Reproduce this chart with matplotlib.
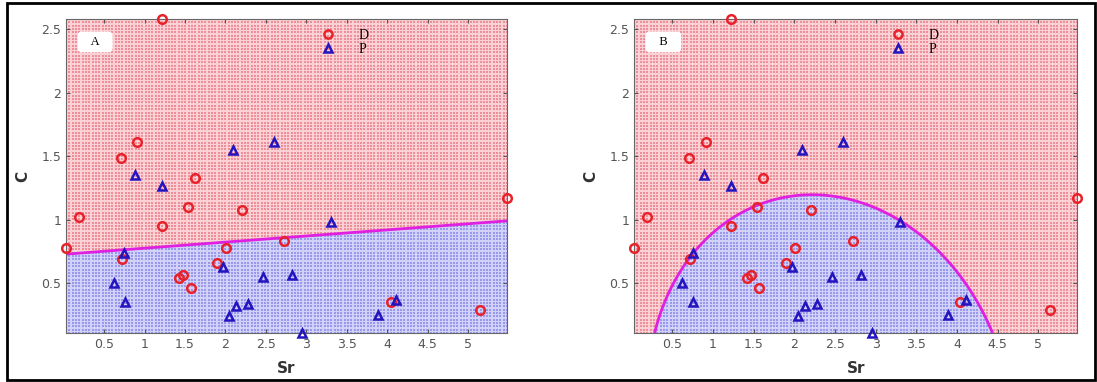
import numpy as np
import matplotlib
matplotlib.use("Agg")
import matplotlib.pyplot as plt
from matplotlib.patches import Rectangle
from matplotlib.colors import ListedColormap

# class D (red circles)
d_sr = [1.22, 0.71, 0.91, 1.62, 0.19, 1.54, 2.21, 1.22, 0.03, 0.72,
        1.47, 1.42, 1.57, 1.90, 2.01, 2.72, 4.04, 5.15, 5.48]
d_c = [2.58, 1.49, 1.61, 1.33, 1.02, 1.10, 1.08, 0.95, 0.78, 0.69,
       0.57, 0.54, 0.46, 0.66, 0.78, 0.83, 0.35, 0.29, 1.17]
# class P (blue triangles)
p_sr = [0.885, 1.22, 2.09, 2.60, 0.75, 0.62, 0.76, 1.97, 2.05, 2.13,
        2.28, 2.47, 2.82, 2.95, 3.30, 3.89, 4.11]
p_c = [1.35, 1.27, 1.55, 1.61, 0.74, 0.50, 0.35, 0.63, 0.24, 0.32,
       0.34, 0.55, 0.57, 0.11, 0.98, 0.25, 0.37]

# linear boundary (panel A): C = b0 + b1*Sr
lin_b0 = 0.729
lin_b1 = 0.048
# points (panel B)
quad_sr = [0.28, 0.77, 1.07, 1.56, 2.05, 2.92, 3.33, 4.07, 4.28, 4.44]
quad_c = [0.11, 0.74, 0.95, 1.11, 1.19, 1.12, 0.98, 0.53, 0.32, 0.11]

xticks = [0.5, 1, 1.5, 2, 2.5, 3, 3.5, 4, 4.5, 5]
yticks = [0.5, 1, 1.5, 2, 2.5]

all_x = np.array(d_sr + p_sr)
all_y = np.array(d_c + p_c)
xlim = (all_x.min(), all_x.max())
ylim = (all_y.min(), all_y.max())

gx, gy = np.meshgrid(np.linspace(xlim[0], xlim[1], 134),
                     np.linspace(ylim[0], ylim[1], 95))
fx, fy = np.meshgrid(np.linspace(xlim[0], xlim[1], 600),
                     np.linspace(ylim[0], ylim[1], 400))

# conic fit a x^2 + b xy + c y^2 + d x + e y = 1
qx = np.array(quad_sr)
qy = np.array(quad_c)
A = np.column_stack([qx**2, qx*qy, qy**2, qx, qy])
coef = np.linalg.lstsq(A, np.ones(len(qx)), rcond=None)[0]


def conic(x, y):
    return coef[0]*x**2 + coef[1]*x*y + coef[2]*y**2 + coef[3]*x + coef[4]*y - 1


ref = np.sign(conic(2.1, 0.5))


def classify(i, x, y):
    if i == 0:
        return y < lin_b0 + lin_b1 * x
    return np.sign(conic(x, y)) == ref


fig = plt.figure(figsize=(10.97, 3.82), dpi=100)
fig.patches.append(Rectangle((7/1097, 2/382), 1088/1097, 377/382,
                             transform=fig.transFigure, fill=False,
                             edgecolor='black', linewidth=2))

red_c = '#e8222a'
blue_c = '#2414c0'
bg_red = '#ee8e98'
bg_blue = '#9898ec'
cmap_bg = ListedColormap(['#fad2d5', '#d2d2f8'])

positions = [[0.0602, 0.1283, 0.402, 0.822], [0.578, 0.1283, 0.404, 0.822]]
labels = ['A', 'B']

for i in range(2):
    ax = fig.add_axes(positions[i])
    fine = classify(i, fx, fy).astype(float)
    ax.imshow(fine, origin='lower', extent=(xlim[0], xlim[1], ylim[0], ylim[1]),
              cmap=cmap_bg, vmin=0, vmax=1, aspect='auto', interpolation='nearest',
              zorder=0)
    m = classify(i, gx, gy)
    ax.scatter(gx[~m], gy[~m], s=4.0, marker='s', c=bg_red, linewidths=0, zorder=1)
    ax.scatter(gx[m], gy[m], s=4.0, marker='s', c=bg_blue, linewidths=0, zorder=1)

    if i == 0:
        xs = np.linspace(xlim[0], xlim[1], 50)
        ax.plot(xs, lin_b0 + lin_b1 * xs, color='#e020e0', lw=2, zorder=2)
    else:
        ax.contour(gx, gy, conic(gx, gy), levels=[0], colors='#e020e0',
                   linewidths=2, zorder=2)

    ax.plot(d_sr, d_c, 'o', mfc='none', mec=red_c, mew=1.8, ms=6.2,
            clip_on=False, zorder=3, label='D')
    ax.plot(p_sr, p_c, '^', mfc='none', mec=blue_c, mew=1.8, ms=5.8,
            clip_on=False, zorder=3, label='P')

    ax.set_xlim(xlim)
    ax.set_ylim(ylim)
    ax.set_xticks(xticks)
    ax.set_xticklabels([('%g' % t) for t in xticks])
    ax.set_yticks(yticks)
    ax.set_yticklabels([('%g' % t) for t in yticks])
    ax.tick_params(direction='in', top=True, right=True, length=3,
                   labelsize=9, labelcolor='#555555', color='#555555')
    for s in ax.spines.values():
        s.set_color('#666666')
        s.set_linewidth(0.8)
    ax.set_xlabel('Sr', fontsize=11, fontweight='bold', color='#333333', labelpad=7)
    ax.set_ylabel('C', fontsize=11, fontweight='bold', color='#333333', labelpad=8)

    ax.text(0.066, 0.927, '   ' + labels[i] + '   ', transform=ax.transAxes,
            ha='center', va='center', family='Liberation Serif', fontsize=9,
            bbox=dict(boxstyle='round,pad=0.35', fc='white', ec='none'), zorder=4)

    leg = ax.legend(loc='upper center', bbox_to_anchor=(0.62, 0.985),
                    prop={'family': 'Liberation Serif', 'size': 10},
                    framealpha=0, fancybox=False, edgecolor='#555555',
                    handletextpad=0.9, borderpad=0.35, labelspacing=0.1,
                    handlelength=2.6, borderaxespad=0, markerscale=0.95)
    leg.get_frame().set_linewidth(1.0)
    leg.set_zorder(5)

fig.savefig('out.png', dpi=100)
